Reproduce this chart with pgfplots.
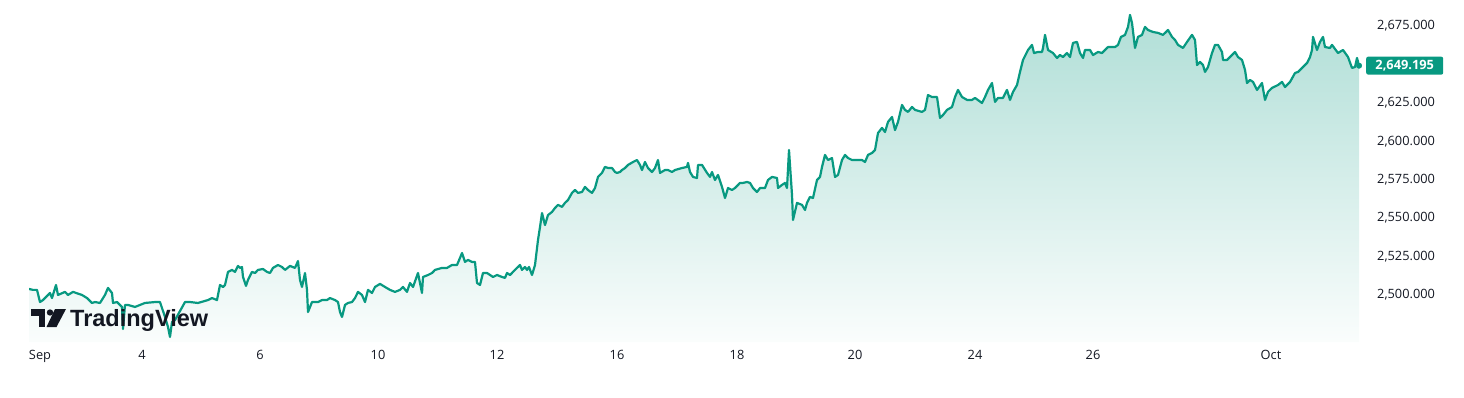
\documentclass[border=0pt]{standalone}
\usepackage{pgfplots}
\usepackage{pgfplotstable}
\pgfplotsset{compat=1.18}
\usepackage{fontspec}
\setmainfont{Open Sans}
\newfontfamily\logofont{Liberation Sans}
\definecolor{tvgreen}{RGB}{8,153,129}
\definecolor{tvtext}{RGB}{19,23,34}
\pgfplotstableread{
x y
29 2503.9
33 2503.3
37 2503.3
40 2495.4
43 2496.7
50 2501.3
52 2498.0
56 2506.5
58 2500.0
65 2502.0
68 2500.0
73 2502.0
82 2500.0
87 2498.0
92 2494.8
95 2495.4
100 2494.8
105 2500.0
108 2504.6
112 2501.3
113 2494.8
117 2495.4
122 2492.2
123 2477.9
125 2493.5
128 2493.5
135 2492.2
140 2493.5
145 2494.8
155 2495.4
160 2495.4
165 2485.7
168 2479.2
170 2472.7
172 2482.4
175 2483.7
185 2495.4
190 2495.4
198 2494.8
208 2496.7
212 2498.0
217 2496.7
220 2506.5
223 2505.2
225 2506.5
228 2515.0
232 2516.3
235 2515.0
238 2518.9
240 2517.6
242 2518.2
243 2511.7
246 2505.9
248 2509.8
252 2515.0
255 2514.3
258 2516.3
263 2516.9
267 2515.0
270 2514.3
273 2517.6
278 2519.5
282 2518.2
285 2516.3
290 2518.9
295 2517.6
298 2522.1
300 2509.8
302 2505.2
305 2514.3
307 2503.3
308 2488.9
312 2495.4
318 2495.4
322 2496.7
327 2496.7
330 2498.0
335 2496.7
338 2495.4
340 2488.9
342 2485.7
345 2493.5
348 2494.8
352 2495.4
355 2498.0
358 2502.0
362 2500.0
365 2495.4
368 2503.3
372 2501.3
375 2505.2
380 2507.2
385 2505.2
390 2503.3
395 2502.0
400 2503.3
403 2505.2
407 2502.0
410 2507.8
413 2505.2
418 2514.3
422 2501.3
423 2511.7
428 2513.0
432 2514.3
435 2516.3
442 2517.6
447 2517.6
452 2519.5
457 2519.5
460 2524.1
462 2527.3
465 2521.5
468 2522.8
472 2521.5
475 2521.5
477 2507.8
480 2506.5
483 2514.3
487 2514.3
490 2513.0
493 2511.7
497 2513.0
502 2511.7
505 2511.1
507 2514.3
510 2513.0
513 2515.0
517 2517.6
520 2519.5
522 2516.3
525 2518.2
527 2516.3
529 2518.2
532 2513.0
535 2519.5
538 2535.8
540 2544.2
542 2553.3
545 2545.5
548 2552.0
552 2554.0
555 2556.6
558 2558.6
562 2557.3
565 2559.9
568 2561.8
572 2566.4
575 2568.3
578 2566.4
582 2567.0
585 2570.3
588 2568.3
592 2566.4
595 2569.6
598 2576.8
602 2579.4
605 2583.3
608 2582.6
612 2582.6
615 2580.0
617 2579.4
620 2580.0
622 2581.3
625 2582.6
628 2584.6
633 2586.5
637 2587.8
640 2584.6
642 2581.3
645 2586.5
648 2582.6
652 2580.0
655 2582.6
658 2587.8
660 2579.4
665 2581.3
668 2581.3
672 2580.0
675 2581.3
682 2582.6
687 2583.3
688 2585.9
690 2580.0
693 2576.8
697 2576.1
698 2584.6
702 2584.6
707 2579.4
710 2576.8
712 2580.0
715 2574.8
718 2578.1
722 2570.3
725 2563.1
728 2569.6
732 2568.3
735 2569.6
740 2572.9
743 2572.9
747 2573.5
750 2572.9
753 2569.6
757 2567.0
760 2569.6
765 2569.6
768 2574.8
772 2576.8
777 2576.1
778 2569.6
782 2571.6
785 2572.9
787 2569.6
789 2594.3
792 2565.1
793 2548.8
797 2559.9
802 2558.6
805 2555.3
807 2559.9
810 2563.8
813 2563.1
817 2574.8
820 2576.8
822 2583.3
825 2591.1
828 2587.8
832 2589.1
835 2576.8
838 2578.1
842 2587.8
845 2591.1
848 2589.1
852 2587.8
857 2587.8
862 2587.8
865 2586.5
868 2591.1
872 2592.4
875 2594.3
878 2605.4
882 2608.7
885 2606.0
888 2612.6
892 2615.8
895 2607.3
898 2612.6
902 2623.6
905 2620.4
908 2619.1
912 2622.3
915 2620.4
922 2619.1
925 2620.4
928 2630.1
932 2628.8
937 2628.8
940 2615.2
943 2617.1
947 2620.4
952 2622.3
955 2628.8
958 2633.4
962 2628.8
967 2626.9
972 2626.9
975 2628.2
982 2624.9
985 2628.8
988 2633.4
992 2637.9
995 2625.6
998 2628.2
1003 2628.2
1007 2633.4
1010 2626.9
1013 2632.1
1017 2636.6
1020 2645.1
1023 2652.9
1028 2659.4
1032 2662.7
1034 2657.4
1038 2658.1
1042 2658.1
1043 2660.7
1045 2669.2
1048 2659.4
1053 2657.4
1057 2654.2
1060 2656.1
1063 2654.8
1067 2657.4
1070 2654.8
1073 2664.0
1077 2664.6
1080 2657.4
1083 2654.2
1085 2659.4
1090 2659.4
1093 2656.1
1098 2658.1
1102 2657.4
1105 2659.4
1108 2661.3
1112 2661.3
1115 2661.3
1118 2662.7
1121 2667.9
1125 2669.2
1128 2674.4
1130 2682.2
1132 2677.0
1135 2660.7
1138 2667.9
1142 2669.2
1145 2674.4
1148 2672.4
1153 2671.1
1158 2670.5
1163 2669.2
1168 2672.4
1172 2667.9
1175 2665.9
1178 2662.7
1183 2660.7
1187 2664.6
1192 2669.2
1195 2665.9
1197 2649.6
1200 2651.6
1203 2649.6
1205 2645.1
1208 2648.3
1212 2657.4
1215 2662.7
1218 2662.7
1222 2658.1
1223 2652.9
1227 2652.9
1230 2654.8
1235 2658.1
1238 2654.8
1242 2652.9
1245 2646.4
1247 2637.9
1250 2639.9
1253 2638.6
1257 2633.4
1262 2637.9
1265 2626.9
1268 2632.1
1272 2634.7
1278 2636.6
1282 2638.6
1285 2635.3
1290 2638.6
1295 2644.4
1298 2645.1
1303 2648.3
1307 2650.9
1310 2654.8
1312 2659.4
1313 2667.9
1317 2659.4
1320 2664.6
1323 2667.9
1325 2661.3
1330 2660.7
1332 2662.7
1338 2657.4
1343 2659.4
1348 2654.8
1352 2647.7
1355 2648.3
1357 2654.2
1359 2649.195
}\pricedata
\begin{document}
\begin{tikzpicture}[x=1pt,y=1pt]
\path[use as bounding box] (0,0) rectangle (1464,397);
\begin{axis}[
  at={(29pt,55pt)}, anchor=south west,
  scale only axis, width=1330pt, height=332pt,
  xmin=29, xmax=1359, ymin=2469.4, ymax=2685.4,
  axis line style={draw=none}, tick style={draw=none},
  clip mode=individual,
  scaled y ticks=false,
  xtick={40,142,260,378,497,617,737,855,975,1093,1271},
  xticklabels={Sep,4,6,10,12,16,18,20,24,26,Oct},
  xticklabel style={anchor=base, inner sep=0pt, yshift=-17.5pt,
    font=\fontsize{12.8}{14}\selectfont, text=tvtext},
  ytick={2500,2525,...,2675},
  yticklabel pos=right,
  yticklabel style={anchor=west, inner sep=0pt, xshift=18pt,
    font=\fontsize{12.8}{14}\selectfont, text=tvtext,
    /pgf/number format/fixed, /pgf/number format/fixed zerofill,
    /pgf/number format/precision=3, /pgf/number format/1000 sep={,},
    /pgf/number format/assume math mode=true},
]
\addplot[draw=none, top color=tvgreen!32!white, bottom color=tvgreen!2!white]
  table {\pricedata} -- (1359,2469.4) -- (29,2469.4) -- cycle;
\addplot[tvgreen, line width=2.2pt, line join=round, no markers] table {\pricedata};
\addplot[tvgreen, only marks, mark=*, mark size=2.8pt] coordinates {(1359,2649.195)};
\node[fill=tvgreen, text=white, font=\bfseries\fontsize{12.8}{14}\selectfont,
  rounded corners=2pt, inner sep=0pt, minimum width=77pt, minimum height=18pt,
  anchor=west, xshift=7pt] at (1359,2649.195) {2,649.195};
\end{axis}
% TradingView logo
\fill[tvtext] (31,88) rectangle (45,81.5);
\fill[tvtext] (38.5,88) rectangle (45,70);
\fill[tvtext] (50,84.5) circle (3.2);
\fill[tvtext] (55,88) -- (66,88) -- (56.5,70) -- (46.5,70) -- cycle;
\node[anchor=base west, inner sep=0pt, text=tvtext,
  font=\logofont\bfseries\fontsize{23.5}{24}\selectfont] at (70,71) {TradingView};
\end{tikzpicture}
\end{document}
